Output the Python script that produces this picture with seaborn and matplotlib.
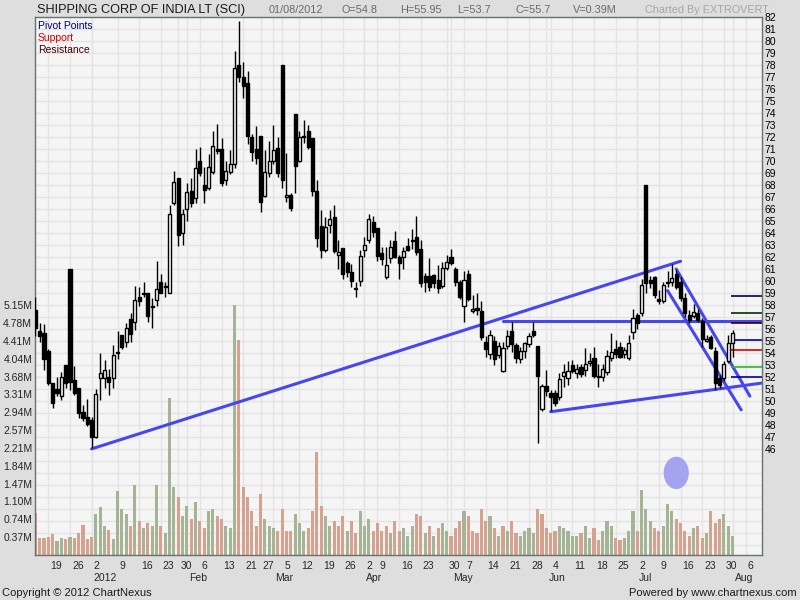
import numpy as np
import pandas as pd
import matplotlib
matplotlib.use("Agg")
import matplotlib.pyplot as plt
import matplotlib.transforms as mtransforms
from matplotlib.patches import Ellipse
import seaborn as sns

# ---- data (daily OHLC, volume in millions) ----
opens = [
    57.6, 55.83, 55.64, 54.14, 51.47, 51.0, 50.45, 53.0, 61.0, 51.75,
    51.1, 49.08, 48.7, 48.4, 47.0, 51.9, 51.9, 52.0, 51.9, 54.1,
    55.5, 54.9, 56.8, 56.6, 58.7, 59.0, 59.0, 57.9, 58.4, 59.9,
    59.55, 59.0, 66.5, 68.6, 64.0, 66.0, 67.5, 66.9, 70.0, 68.05,
    67.8, 69.1, 71.0, 71.0, 68.45, 69.1, 69.8, 78.05, 77.05, 76.5,
    72.0, 71.0, 72.1, 67.05, 69.0, 70.0, 71.1, 78.0, 67.0, 67.15,
    73.9, 70.0, 72.05, 72.5, 71.9, 67.5, 64.55, 62.55, 64.7, 65.3,
    62.15, 62.75, 61.5, 60.75, 59.4, 60.0, 62.55, 63.45, 64.9, 64.4,
    62.3, 60.33, 61.9, 63.3, 62.03, 61.97, 62.94, 63.36, 63.64, 62.67,
    60.4, 60.45, 60.47, 60.1, 59.6, 61.06, 61.97, 60.97, 59.94, 57.94,
    60.6, 57.47, 57.72, 57.5, 54.94, 53.92, 55.0, 53.83, 52.47, 54.58,
    55.83, 54.67, 53.47, 54.19, 54.72, 55.83, 54.58, 49.3, 51.25, 50.7,
    50.64, 50.3, 52.1, 51.9, 53.0, 52.36, 52.8, 52.58, 53.14, 53.55,
    52.08, 52.03, 52.45, 53.55, 54.3, 54.47, 53.92, 53.55, 55.78, 57.17,
    57.3, 68.0, 60.1, 60.36, 58.5, 58.33, 59.94, 59.94, 60.56, 59.94,
    58.6, 57.17, 57.1, 57.3, 56.67, 55.0, 55.36, 54.17, 51.9, 51.9,
    53.36, 54.8]
highs = [
    58.7, 56.47, 56.42, 54.3, 51.5, 52.0, 52.4, 53.0, 61.0, 52.9,
    51.1, 49.67, 50.2, 48.7, 51.0, 54.0, 53.4, 52.7, 54.7, 55.8,
    55.5, 56.5, 57.3, 59.6, 59.5, 59.9, 59.0, 58.6, 61.7, 60.6,
    59.9, 66.3, 69.2, 68.6, 66.0, 68.2, 68.6, 71.0, 71.2, 69.5,
    70.6, 72.55, 73.1, 71.9, 70.0, 70.9, 79.2, 81.7, 78.3, 77.5,
    72.3, 72.9, 72.1, 70.9, 71.7, 73.0, 72.0, 78.0, 70.7, 67.3,
    73.9, 72.55, 73.4, 73.0, 71.9, 68.4, 65.9, 65.3, 65.9, 66.3,
    63.4, 62.75, 61.7, 61.4, 59.9, 62.55, 63.65, 65.6, 65.4, 64.4,
    62.8, 62.8, 63.4, 64.17, 62.2, 62.86, 63.56, 64.3, 65.4, 63.4,
    60.7, 61.9, 60.6, 61.3, 61.6, 62.2, 62.7, 61.2, 60.1, 60.8,
    60.9, 58.8, 58.97, 58.3, 55.4, 55.9, 55.4, 54.94, 54.94, 55.9,
    56.6, 54.8, 54.5, 54.94, 55.64, 56.6, 54.6, 51.4, 52.6, 50.9,
    50.9, 52.36, 53.1, 53.36, 53.4, 53.1, 53.1, 54.4, 53.97, 54.5,
    53.1, 53.1, 54.25, 55.7, 55.1, 54.94, 54.5, 55.5, 57.7, 57.3,
    60.2, 68.0, 60.4, 60.4, 59.25, 59.94, 60.8, 61.4, 60.9, 60.36,
    58.97, 57.6, 58.1, 57.7, 56.9, 55.5, 55.5, 54.5, 52.2, 53.3,
    55.5, 55.95]
lows = [
    55.4, 54.94, 52.58, 51.3, 49.4, 50.4, 50.1, 51.1, 50.9, 50.5,
    48.6, 48.3, 47.9, 46.05, 46.9, 50.1, 51.05, 50.5, 51.05, 53.5,
    54.3, 54.5, 54.9, 55.9, 57.9, 58.7, 56.6, 56.05, 57.9, 59.0,
    58.7, 59.0, 66.3, 62.9, 63.0, 65.0, 66.2, 66.5, 68.8, 66.5,
    67.6, 68.9, 70.6, 67.9, 68.0, 68.9, 69.4, 76.6, 75.3, 71.4,
    70.05, 69.8, 65.75, 67.0, 68.7, 69.8, 68.7, 67.8, 66.6, 65.8,
    67.3, 69.9, 71.5, 71.0, 67.05, 62.85, 61.9, 62.4, 64.0, 62.3,
    61.0, 60.2, 60.3, 59.5, 58.7, 59.55, 62.0, 63.2, 63.7, 61.7,
    61.3, 60.2, 61.5, 61.9, 60.2, 60.97, 62.5, 62.7, 62.2, 59.5,
    59.1, 59.2, 59.4, 59.0, 59.4, 60.9, 61.3, 59.6, 58.5, 56.6,
    58.3, 57.36, 57.2, 55.1, 53.7, 53.5, 53.0, 53.6, 52.4, 54.3,
    54.1, 53.2, 53.2, 53.55, 54.5, 55.3, 46.5, 49.2, 50.4, 49.2,
    49.6, 50.1, 51.2, 51.3, 52.3, 51.9, 52.0, 52.1, 52.9, 51.9,
    51.2, 51.7, 52.2, 53.3, 53.6, 53.55, 53.6, 53.4, 55.2, 56.0,
    57.1, 59.0, 59.4, 58.6, 58.1, 58.2, 59.5, 59.6, 59.3, 58.3,
    57.0, 56.5, 56.9, 56.6, 54.5, 54.9, 54.3, 50.9, 51.1, 51.7,
    53.2, 53.7]
closes = [
    56.1, 55.42, 53.47, 51.47, 49.8, 50.7, 52.0, 51.47, 51.6, 50.7,
    49.0, 48.6, 48.1, 47.0, 50.6, 52.3, 52.6, 51.6, 53.8, 54.0,
    54.5, 56.1, 55.6, 58.4, 58.3, 58.95, 57.1, 57.8, 59.3, 59.0,
    59.5, 65.6, 68.3, 63.8, 65.6, 67.4, 66.5, 69.4, 69.0, 67.6,
    69.55, 71.3, 70.85, 68.2, 69.2, 69.8, 77.75, 77.0, 76.3, 72.1,
    70.75, 70.3, 66.6, 69.1, 70.0, 70.9, 69.0, 68.4, 67.15, 66.1,
    69.6, 72.0, 72.0, 71.2, 67.5, 63.6, 62.55, 64.5, 65.2, 62.5,
    62.4, 60.6, 60.75, 60.0, 59.35, 62.05, 63.0, 65.2, 64.1, 62.05,
    61.85, 61.3, 62.8, 62.03, 61.5, 62.5, 62.58, 63.4, 62.4, 59.8,
    59.9, 59.5, 59.8, 59.4, 61.1, 61.6, 61.5, 59.95, 58.7, 60.08,
    58.5, 57.64, 57.58, 55.3, 54.3, 55.5, 53.47, 54.58, 54.44, 55.42,
    54.72, 53.56, 54.17, 54.8, 55.42, 55.5, 52.1, 51.25, 50.83, 50.3,
    49.8, 51.8, 52.4, 52.5, 52.5, 52.64, 52.25, 53.05, 53.36, 52.1,
    51.97, 52.64, 53.78, 54.1, 53.9, 53.7, 54.25, 54.86, 56.9, 56.47,
    59.7, 59.8, 59.8, 58.8, 58.33, 59.67, 59.8, 60.28, 59.5, 58.56,
    57.3, 56.75, 57.45, 56.75, 55.2, 55.2, 54.4, 51.5, 51.33, 53.05,
    54.8, 55.7]
volumes_m = [
    0.87, 0.35, 0.36, 0.38, 0.44, 0.29, 0.35, 0.33, 0.37, 0.36,
    0.45, 0.61, 0.33, 0.37, 0.85, 0.98, 0.60, 0.52, 0.33, 1.32,
    0.95, 0.85, 0.6, 1.45, 0.7, 0.55, 0.65, 0.6, 1.45, 0.6,
    0.45, 3.24, 1.4, 1.2, 0.8, 1.0, 0.75, 1.1, 0.7, 0.55,
    0.9, 0.95, 0.8, 0.75, 0.6, 0.55, 5.148, 4.43, 1.4, 1.2,
    0.9, 0.6, 1.25, 0.75, 0.6, 0.55, 0.5, 0.95, 0.5, 0.5,
    0.85, 0.65, 0.5, 0.55, 0.9, 2.12, 1.0, 0.8, 0.6, 0.7,
    0.6, 0.8, 0.5, 0.7, 0.45, 0.9, 0.6, 0.75, 0.5, 0.65,
    0.5, 0.6, 0.45, 0.7, 0.5, 0.55, 0.4, 0.6, 0.85, 0.8,
    0.45, 0.6, 0.4, 0.55, 0.65, 0.5, 0.4, 0.55, 0.7, 0.9,
    0.8, 0.5, 0.45, 0.95, 0.7, 0.8, 0.55, 0.4, 0.6, 0.5,
    0.7, 0.45, 0.4, 0.5, 0.55, 0.45, 0.95, 0.85, 0.55, 0.45,
    0.5, 0.6, 0.55, 0.5, 0.4, 0.4, 0.45, 0.6, 0.35, 0.55,
    0.3, 0.5, 0.7, 0.6, 0.35, 0.3, 0.35, 0.5, 0.9, 0.5,
    1.34, 0.95, 0.7, 0.55, 0.5, 0.6, 1.05, 0.9, 0.75, 0.65,
    0.5, 0.4, 0.55, 0.6, 0.35, 0.45, 0.9, 0.65, 0.75, 0.85,
    0.6, 0.39]

holidays = ["2012-01-26", "2012-02-20", "2012-03-08", "2012-04-05", "2012-04-06", "2012-05-01"]
extra_sessions = ["2012-01-07", "2012-04-28"]

# analyst drawings: (date, price) anchors
trend_lines = [
    [("2012-01-02", 46.0), ("2012-07-16", 61.65)],
    [("2012-05-18", 56.7), ("2012-08-10", 56.7)],
    [("2012-06-04", 49.1), ("2012-08-10", 51.5)],
    [("2012-07-13", 61.0), ("2012-08-07", 50.4)],
    [("2012-07-11", 59.2), ("2012-08-03", 49.25)],
]
marker_spot = ("2012-07-13", 44.0)

title = "SHIPPING CORP OF INDIA LT (SCI)"

n = len(closes)
assert len(opens) == len(highs) == len(lows) == len(volumes_m) == n

days = pd.bdate_range("2011-12-14", "2012-08-31")
days = days.drop(pd.to_datetime(holidays)).union(pd.to_datetime(extra_sessions))
day_pos = {d: i for i, d in enumerate(days)}
dates = days[:n]

df = pd.DataFrame({"date": dates, "open": opens, "high": highs, "low": lows,
                   "close": closes, "vol": volumes_m})
df["x"] = np.arange(n)
df["up"] = df["close"] >= df["close"].shift(1)

# price / volume scales share one box
p_bottom, p_top = 37.15, 82.02
m_per_unit = 0.3677 / 17.85 * 12
def p2v(p):
    return (p - p_bottom) * m_per_unit
def v2p(v):
    return v / m_per_unit + p_bottom

sns.set_style("white")
plt.rcParams["font.family"] = ["Liberation Sans", "DejaVu Sans"]

fig = plt.figure(figsize=(8, 6), dpi=100)
fig.patch.set_facecolor("#dedede")
ax = fig.add_axes([35 / 800, 45 / 600, 727 / 800, 538 / 600])
ax.set_facecolor("#f5f5f5")
x_right = 167.8
ax.set_xlim(-0.07, x_right)
ax.set_ylim(p_bottom, p_top)

# ticks from the calendar
cal = pd.DataFrame({"date": days, "x": np.arange(len(days))})
cal = cal[cal["x"] <= x_right]
week_x = cal.groupby(cal["date"].dt.to_period("W"))["x"].min()
week_x = week_x[week_x > 0]
month_x = cal.groupby(cal["date"].dt.to_period("M"))["x"].min()
month_x = month_x[month_x > 0]
week_lbl = [str(days[i].day) for i in week_x]
month_lbl = ["2012" if days[i].month == 1 else days[i].strftime("%b") for i in month_x]

grid_c = "#e4e4e4"
for p in range(38, 82):
    ax.axhline(p, color=grid_c, lw=1, zorder=0)
for xv in list(week_x) + list(month_x):
    ax.axvline(xv, color=grid_c, lw=1, zorder=0)

# volume
vol_colors = np.where(df["up"], "#a6b496", "#d6a290")
ax.bar(df["x"], df["vol"] / m_per_unit, bottom=p_bottom, width=0.72,
       color=vol_colors, linewidth=0, zorder=1)

# trend lines
for line in trend_lines:
    lx = [day_pos[pd.Timestamp(d)] for d, _ in line]
    ly = [p for _, p in line]
    sns.lineplot(x=lx, y=ly, ax=ax, color="#4646f2", lw=2.2, zorder=2,
                 sort=False, legend=False)

mx = day_pos[pd.Timestamp(marker_spot[0])]
ax.add_patch(Ellipse((mx, marker_spot[1]), 5.8, 2.7, color="#a3a3f0", lw=0, zorder=2))

# candles
ax.vlines(df["x"], df["low"], df["high"], color="black", lw=1, zorder=3)
body_lo = np.minimum(df["open"], df["close"])
body_h = np.maximum(np.abs(df["close"] - df["open"]), 0.06)
body_fc = np.where(df["close"] > df["open"], "white", "black")
ax.bar(df["x"], body_h, bottom=body_lo, width=0.72, color=body_fc,
       edgecolor="black", linewidth=1, zorder=4)

# pivot levels from last bar
H, L, C = highs[-1], lows[-1], closes[-1]
P = (H + L + C) / 3
levels = [H + 2 * (P - L), P + (H - L), 2 * P - L, P, 2 * P - H, P - (H - L), L - 2 * (H - P)]
lvl_colors = ["#00004a", "#003000", "#3c0000", "#0000a8", "#d40000", "#22c022", "#0000a8"]
for lv, lc in zip(levels, lvl_colors):
    ax.hlines(lv, n - 1.4, x_right, color=lc, lw=1.2, zorder=2)

# axes styling
for s in ax.spines.values():
    s.set_color("#66736f")
    s.set_linewidth(1)
ax.yaxis.tick_right()
ax.set_yticks(range(46, 83))
ax.tick_params(axis="y", length=0, pad=2, labelsize=7.5, colors="black")

ax.xaxis.remove_overlapping_locs = False
ax.set_xticks(list(week_x))
ax.set_xticklabels(week_lbl)
ax.set_xticks(list(month_x), minor=True)
ax.set_xticklabels(month_lbl, minor=True)
ax.tick_params(axis="x", which="major", direction="out", length=9.4, width=1,
               color="#5c6a68", pad=-5.3, labelsize=7.5)
ax.tick_params(axis="x", which="minor", direction="out", length=19.4, width=1,
               color="#5c6a68", pad=-6.5, labelsize=7.5)
offset = mtransforms.ScaledTranslation(2 / 100, 0, fig.dpi_scale_trans)
for lbl in ax.xaxis.get_majorticklabels() + ax.xaxis.get_minorticklabels():
    lbl.set_horizontalalignment("left")
    lbl.set_transform(lbl.get_transform() + offset)

vstep = max(volumes_m) / 14
vax = ax.secondary_yaxis("left", functions=(p2v, v2p))
vticks = [vstep * k for k in range(1, 15)]
vax.set_yticks(vticks)
vax.set_yticklabels([f"{v:.2f}M" for v in vticks])
vax.tick_params(length=0, pad=2, labelsize=7.5)
vax.spines["left"].set_visible(False)

# header and footer text
fig.text(37 / 800, 1 - 10 / 600, title, fontsize=9.2, color="#1a1a1a", va="center")
info = [("01/08/2012", 269), (f"O={opens[-1]}", 342), (f"H={highs[-1]}", 400),
        (f"L={lows[-1]}", 457), (f"C={closes[-1]}", 516), (f"V={volumes_m[-1]}M", 573)]
for txt, px in info:
    fig.text(px / 800, 1 - 10 / 600, txt, fontsize=7.8, color="#6a6a6a", va="center")
fig.text(645 / 800, 1 - 10 / 600, "Charted By EXTROVERT", fontsize=7.8, color="#a6a6a6", va="center")

legend_items = [("Pivot Points", "#00007a"), ("Support", "#cc0000"), ("Resistance", "#400000")]
for k, (txt, c) in enumerate(legend_items):
    ax.text(3 / 727, 1 - (8.5 + 12.3 * k) / 538, txt, transform=ax.transAxes,
            fontsize=7.5, color=c, va="center", zorder=5)

fig.text(2 / 800, 1 - 593 / 600, "Copyright \u00a9 2012 ChartNexus", fontsize=8, color="#1a1a1a", va="center")
fig.text(797 / 800, 1 - 593 / 600, "Powered by www.chartnexus.com", fontsize=8, color="#1a1a1a",
         va="center", ha="right")

fig.savefig("out.png", dpi=100, facecolor=fig.get_facecolor())
